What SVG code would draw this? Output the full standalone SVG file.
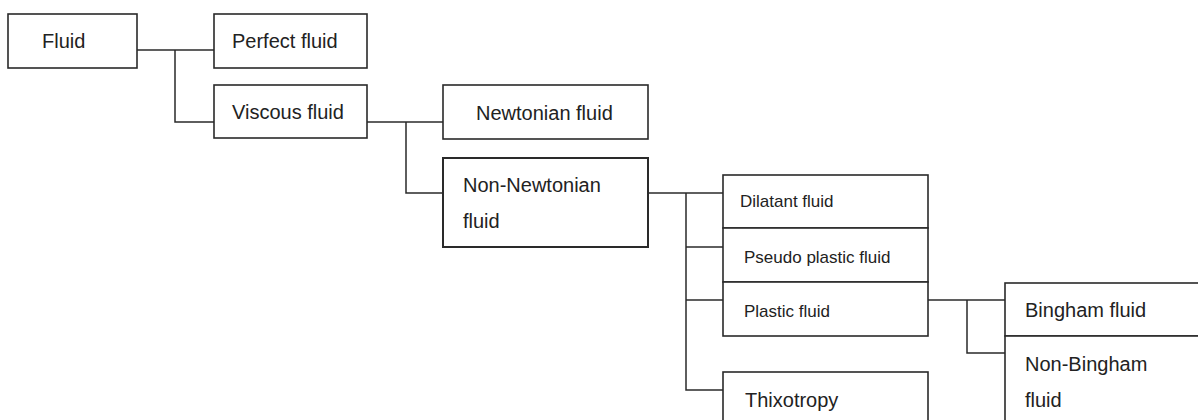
<svg xmlns="http://www.w3.org/2000/svg" width="1198" height="420" viewBox="0 0 1198 420">
<style>
.box{fill:#fff;stroke:#2a2a2a;stroke-width:1.6}
.t{font-family:"Liberation Sans",Arial,sans-serif;font-size:20px;fill:#222}
.s{font-family:"Liberation Sans",Arial,sans-serif;font-size:17px;fill:#222}
.c{fill:none;stroke:#2a2a2a;stroke-width:1.5}
</style>
<rect width="1198" height="420" fill="#fff"/>
<g id="connectors">
<polyline class="c" points="137,50 214,50"/>
<polyline class="c" points="175,50 175,122 214,122"/>
<polyline class="c" points="367,122 443,122"/>
<polyline class="c" points="406,122 406,193 443,193"/>
<polyline class="c" points="648,193 723,193"/>
<polyline class="c" points="686,193 686,390 723,390"/>
<polyline class="c" points="686,247 723,247"/>
<polyline class="c" points="686,300 723,300"/>
<polyline class="c" points="928,300 1005,300"/>
<polyline class="c" points="967,300 967,353 1005,353"/>
</g>
<g id="fluid"><rect class="box" x="8" y="14" width="129" height="54"/><text class="t" x="42" y="48">Fluid</text></g>
<g id="perfect"><rect class="box" x="214" y="14" width="153" height="54"/><text class="t" x="232" y="48">Perfect fluid</text></g>
<g id="viscous"><rect class="box" x="214" y="85" width="153" height="53"/><text class="t" x="232" y="119">Viscous fluid</text></g>
<g id="newtonian"><rect class="box" x="443" y="85" width="205" height="54"/><text class="t" x="476" y="120">Newtonian fluid</text></g>
<g id="nonnewtonian"><rect class="box" x="443" y="158" width="205" height="89" style="stroke-width:2"/><text class="t" x="463" y="192">Non-Newtonian</text><text class="t" x="463" y="228">fluid</text></g>
<g id="dilatant"><rect class="box" x="723" y="175" width="205" height="53"/><text class="s" x="740" y="207">Dilatant fluid</text></g>
<g id="pseudo"><rect class="box" x="723" y="228" width="205" height="54"/><text class="s" x="744" y="263">Pseudo plastic fluid</text></g>
<g id="plastic"><rect class="box" x="723" y="282" width="205" height="54"/><text class="s" x="744" y="317">Plastic fluid</text></g>
<g id="thixotropy"><rect class="box" x="723" y="372" width="205" height="60"/><text class="t" x="745" y="407">Thixotropy</text></g>
<g id="bingham"><rect class="box" x="1005" y="283" width="200" height="53"/><text class="t" x="1025" y="317">Bingham fluid</text></g>
<g id="nonbingham"><rect class="box" x="1005" y="336" width="200" height="96"/><text class="t" x="1025" y="371">Non-Bingham</text><text class="t" x="1025" y="407">fluid</text></g>
</svg>
